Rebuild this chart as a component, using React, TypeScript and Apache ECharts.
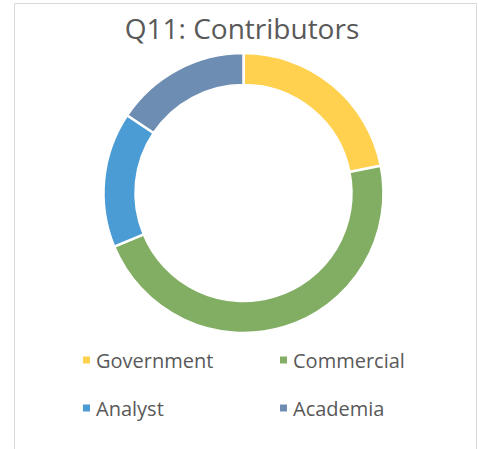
import React, { useEffect, useRef } from "react";
import * as echarts from "echarts";

const categories = ["Government", "Commercial", "Analyst", "Academia"];
const values = [14, 30, 10, 10];
const colors = ["#FFD14F", "#82AE63", "#4B9BD4", "#6E8DB3"];
const titleText = "Q11: Contributors";

export default function App() {
  const ref = useRef<HTMLDivElement>(null);
  useEffect(() => {
    const chart = echarts.init(ref.current!, null, { renderer: "svg" });
    const font = "'Open Sans', 'Noto Sans', sans-serif";
    chart.setOption({
      animation: false,
      color: colors,
      title: {
        text: titleText,
        left: 237,
        textAlign: "center",
        top: 9,
        textStyle: { color: "#595959", fontSize: 28, fontWeight: "normal", fontFamily: font },
      },
      graphic: [
        {
          type: "rect",
          shape: { x: 14.5, y: 3.5, width: 462, height: 470 },
          style: { fill: "none", stroke: "#D9D9D9", lineWidth: 1 },
          silent: true,
        },
      ],
      legend: [
        {
          data: [categories[0], categories[2]],
          orient: "vertical",
          left: 76,
          top: 345,
          itemWidth: 9,
          itemHeight: 9,
          itemGap: 28,
          icon: "rect",
          textStyle: { color: "#595959", fontSize: 20, fontFamily: font },
        },
        {
          data: [categories[1], categories[3]],
          orient: "vertical",
          left: 273,
          top: 345,
          itemWidth: 9,
          itemHeight: 9,
          itemGap: 28,
          icon: "rect",
          textStyle: { color: "#595959", fontSize: 20, fontFamily: font },
        },
      ],
      series: [
        {
          type: "pie",
          center: [243.5, 193],
          radius: [108, 140],
          startAngle: 90,
          clockwise: true,
          label: { show: false },
          labelLine: { show: false },
          emphasis: { disabled: true },
          itemStyle: { borderColor: "#ffffff", borderWidth: 2.5 },
          data: categories.map((name, i) => ({ name, value: values[i] })),
        },
      ],
    });
    return () => chart.dispose();
  }, []);
  return (
    <div
      ref={ref}
      style={{ position: "fixed", left: 0, top: 0, width: 478, height: 449, background: "#fff" }}
    />
  );
}
